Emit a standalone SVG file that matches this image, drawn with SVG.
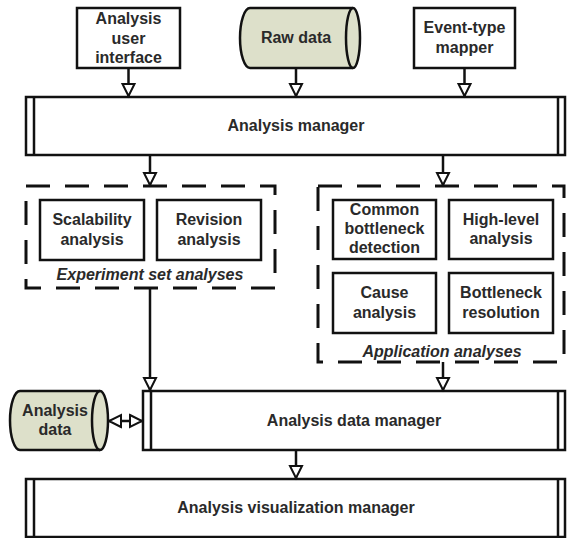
<svg xmlns="http://www.w3.org/2000/svg" width="567" height="538" viewBox="0 0 567 538">
  <style>
    text { font-family: "Liberation Sans", Arial, sans-serif; font-size: 16px; font-weight: bold; fill: #2a2a2a; text-anchor: middle; }
    .cap { font-style: italic; }
    .box { fill: #ffffff; stroke: #111111; stroke-width: 2.5; }
    .store { fill: #dde0ca; stroke: #111111; stroke-width: 2.5; }
    .edge { fill: none; stroke: #111111; stroke-width: 2.5; }
    .group { fill: none; stroke: #111111; stroke-width: 3; stroke-dasharray: 24 15; }
    .conn { fill: none; stroke: #111111; stroke-width: 2.5; }
  </style>
  <defs>
    <marker id="tri" viewBox="-2 -2 16 16" refX="12" refY="6" markerWidth="16" markerHeight="16" markerUnits="userSpaceOnUse" orient="auto-start-reverse" overflow="visible">
      <path d="M0,0 L12,6 L0,12 Z" fill="#ffffff" stroke="#111111" stroke-width="2"/>
    </marker>
  </defs>
  <rect width="567" height="538" fill="#ffffff"/>

  <!-- top row -->
  <g id="analysis-user-interface">
    <rect class="box" x="77" y="8" width="103" height="60"/>
    <text x="128.5" y="24">Analysis</text>
    <text x="128.5" y="43.5">user</text>
    <text x="128.5" y="63">interface</text>
  </g>
  <g id="raw-data">
    <path class="store" d="M250,8 L353,8 A7,30 0 0 1 353,68 L250,68 A10,30 0 0 1 250,8 Z"/>
    <path class="edge" d="M353,8 A7,30 0 0 0 353,68"/>
    <text x="296" y="43">Raw data</text>
  </g>
  <g id="event-type-mapper">
    <rect class="box" x="414" y="8" width="101" height="60"/>
    <text x="464.5" y="33">Event-type</text>
    <text x="464.5" y="53">mapper</text>
  </g>

  <!-- analysis manager -->
  <g id="analysis-manager">
    <rect class="box" x="26" y="97" width="539" height="58"/>
    <line class="edge" x1="34" y1="97" x2="34" y2="155"/>
    <line class="edge" x1="558" y1="97" x2="558" y2="155"/>
    <text x="296" y="131">Analysis manager</text>
  </g>

  <!-- experiment set analyses -->
  <g id="experiment-set-analyses">
    <rect class="group" x="26" y="186" width="249" height="102"/>
    <text class="cap" x="150" y="280">Experiment set analyses</text>
  </g>
  <g id="scalability-analysis">
    <rect class="box" x="40" y="200" width="104" height="60"/>
    <text x="92" y="225">Scalability</text>
    <text x="92" y="244.5">analysis</text>
  </g>
  <g id="revision-analysis">
    <rect class="box" x="157" y="200" width="104" height="60"/>
    <text x="209" y="225">Revision</text>
    <text x="209" y="244.5">analysis</text>
  </g>

  <!-- application analyses -->
  <g id="application-analyses">
    <rect class="group" x="318" y="186" width="246" height="176"/>
    <text class="cap" x="442" y="357">Application analyses</text>
  </g>
  <g id="common-bottleneck-detection">
    <rect class="box" x="333" y="200" width="103" height="59"/>
    <text x="384.5" y="215">Common</text>
    <text x="384.5" y="234">bottleneck</text>
    <text x="384.5" y="253">detection</text>
  </g>
  <g id="high-level-analysis">
    <rect class="box" x="449" y="200" width="104" height="59"/>
    <text x="501" y="224.5">High-level</text>
    <text x="501" y="244">analysis</text>
  </g>
  <g id="cause-analysis">
    <rect class="box" x="333" y="273" width="103" height="60"/>
    <text x="384.5" y="298">Cause</text>
    <text x="384.5" y="317.5">analysis</text>
  </g>
  <g id="bottleneck-resolution">
    <rect class="box" x="449" y="273" width="104" height="60"/>
    <text x="501" y="298">Bottleneck</text>
    <text x="501" y="317.5">resolution</text>
  </g>

  <!-- analysis data store and manager -->
  <g id="analysis-data">
    <path class="store" d="M20,391 L100,391 A8,29.5 0 0 1 100,450 L20,450 A10,29.5 0 0 1 20,391 Z"/>
    <path class="edge" d="M100,391 A8,29.5 0 0 0 100,450"/>
    <text x="55" y="415.5">Analysis</text>
    <text x="55" y="435">data</text>
  </g>
  <g id="analysis-data-manager">
    <rect class="box" x="143" y="391" width="422" height="59"/>
    <line class="edge" x1="151" y1="391" x2="151" y2="450"/>
    <line class="edge" x1="558" y1="391" x2="558" y2="450"/>
    <text x="354" y="426">Analysis data manager</text>
  </g>

  <!-- visualization -->
  <g id="analysis-visualization-manager">
    <rect class="box" x="26" y="479" width="539" height="58"/>
    <line class="edge" x1="34" y1="479" x2="34" y2="537"/>
    <line class="edge" x1="558" y1="479" x2="558" y2="537"/>
    <text x="296" y="513">Analysis visualization manager</text>
  </g>

  <!-- connectors -->
  <g id="connectors">
    <line class="conn" x1="128.5" y1="68" x2="128.5" y2="96" marker-end="url(#tri)"/>
    <line class="conn" x1="296" y1="68" x2="296" y2="96" marker-end="url(#tri)"/>
    <line class="conn" x1="464.5" y1="68" x2="464.5" y2="96" marker-end="url(#tri)"/>
    <line class="conn" x1="150" y1="155" x2="150" y2="185" marker-end="url(#tri)"/>
    <line class="conn" x1="443" y1="155" x2="443" y2="185" marker-end="url(#tri)"/>
    <line class="conn" x1="150" y1="288" x2="150" y2="390" marker-end="url(#tri)"/>
    <line class="conn" x1="443" y1="362" x2="443" y2="390" marker-end="url(#tri)"/>
    <line class="conn" x1="109" y1="421" x2="142" y2="421" marker-start="url(#tri)" marker-end="url(#tri)"/>
    <line class="conn" x1="296" y1="450" x2="296" y2="478" marker-end="url(#tri)"/>
  </g>
</svg>
